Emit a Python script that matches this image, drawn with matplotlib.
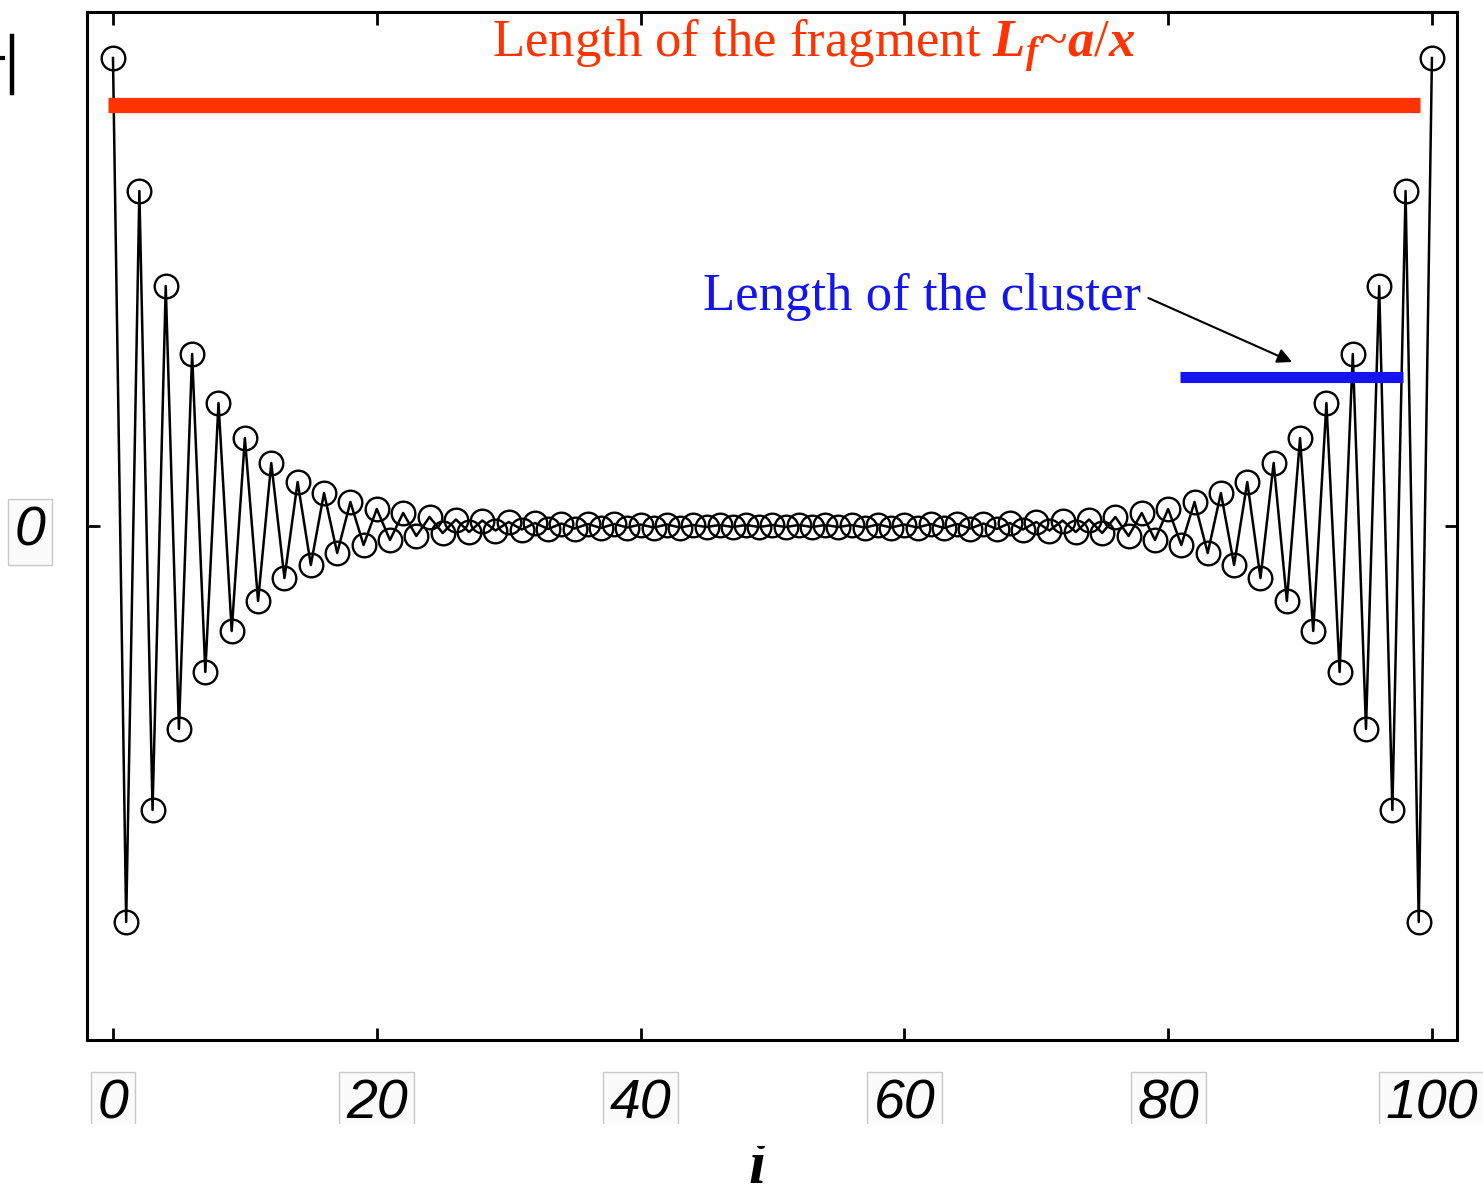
import matplotlib
matplotlib.use("Agg")
import matplotlib.pyplot as plt
from matplotlib.lines import Line2D
from matplotlib.patches import Rectangle

# ---- data (arbitrary amplitude units) ----
site_index = list(range(101))
amplitude = [
    468, -396, 335, -284, 240, -203, 172, -146, 123, -105,
    88, -75, 63, -52, 44, -39, 33, -27, 24, -19,
    17, -14, 13, -10, 9, -7, 6.5, -6, 5.5, -4.5,
    4, -3.5, 3, -3, 2.5, -2.5, 2, -2, 2, -1.5,
    1.5, -1.5, 1.5, -1.5, 1, -1, 1, -1, 1, -1,
    1,
    -1, 1, -1, 1, -1, 1, -1.5, 1.5, -1.5, 1.5,
    -1.5, 2, -2, 2, -2.5, 2.5, -3, 3, -3.5, 4,
    -4.5, 5.5, -6, 6.5, -7, 9, -10, 13, -14, 17,
    -19, 24, -27, 33, -39, 44, -52, 63, -75, 88,
    -105, 123, -146, 172, -203, 240, -284, 335, -396, 468,
]
xtick_values = [0, 20, 40, 60, 80, 100]
xtick_labels = ["0", "20", "40", "60", "80", "100"]
ytick_values = [0]
ytick_labels = ["0"]

fragment_span = [-0.4, 99.1]
fragment_level = 421
cluster_span = [80.9, 97.8]
cluster_level = 149

fragment_text = r"Length of the fragment $L_f$~$a/x$"
cluster_text = "Length of the cluster"
xlabel_text = "i"

RED = "#ff3300"
BLUE = "#1414f0"

plt.rcParams["mathtext.fontset"] = "custom"
plt.rcParams["mathtext.rm"] = "Liberation Serif"
plt.rcParams["mathtext.it"] = "Liberation Serif:italic:bold"
plt.rcParams["mathtext.bf"] = "Liberation Serif:bold"

W, H = 1483, 1195
fig = plt.figure(figsize=(W / 100, H / 100), dpi=100)
ax = fig.add_axes([87 / W, 1 - 1040 / H, 1370 / W, 1028 / H])

ax.plot(site_index, amplitude, color="black", lw=1.8, marker="o",
        markersize=17, markerfacecolor="none", markeredgecolor="black",
        markeredgewidth=1.7, zorder=3)

ax.set_xlim(-1.97, 101.9)
ax.set_ylim(-514, 514)

for s in ax.spines.values():
    s.set_linewidth(2.2)

ax.set_xticks(xtick_values)
ax.set_yticks(ytick_values)
box = dict(boxstyle="square,pad=0.12", fc="#fbfbfb", ec="#c8c8c8", lw=1)
ax.set_xticklabels(xtick_labels, fontfamily="Liberation Sans", style="italic",
                   fontsize=40, bbox=box)
ax.set_yticklabels(ytick_labels, fontfamily="Liberation Sans", style="italic",
                   fontsize=40, bbox=box)
ax.tick_params(axis="x", direction="in", length=9, width=2, pad=28, top=True)
ax.tick_params(axis="y", direction="in", length=9, width=2, pad=30,
               right=True)

# annotation bars
ax.plot(fragment_span, [fragment_level, fragment_level], color=RED, lw=11,
        solid_capstyle="butt", zorder=4)
ax.plot(cluster_span, [cluster_level, cluster_level], color=BLUE, lw=8,
        solid_capstyle="butt", zorder=4)

fig.text(492 / W, 1 - 57 / H, fragment_text, color=RED, fontsize=38,
         family="Liberation Serif", ha="left", va="baseline")
fig.text(703 / W, 1 - 310 / H, cluster_text, color=BLUE, fontsize=38,
         family="Liberation Serif", ha="left", va="baseline")

ax.annotate("", xy=(89.4, 164), xytext=(78.5, 228),
            arrowprops=dict(arrowstyle="-|>", color="black", lw=1.5,
                            mutation_scale=22, shrinkA=0, shrinkB=0))

fig.text(757 / W, 1 - 1183 / H, xlabel_text, fontsize=44,
         family="Liberation Serif", style="italic", weight="bold",
         ha="center", va="baseline")

# cut-off bottom of the tick label boxes
fig.add_artist(Rectangle((60 / W, 1 - 1146 / H), 1423 / W, 22 / H,
                         transform=fig.transFigure, fc="white", ec="none",
                         zorder=5))

# truncated mark at top-left edge
fig.add_artist(Line2D([12 / W, 12 / W], [1 - 36 / H, 1 - 93 / H],
                      color="black", lw=3.2, transform=fig.transFigure))
fig.add_artist(Line2D([0, 3 / W], [1 - 58 / H, 1 - 58 / H],
                      color="black", lw=3, transform=fig.transFigure))

fig.savefig("out.png", dpi=100)
